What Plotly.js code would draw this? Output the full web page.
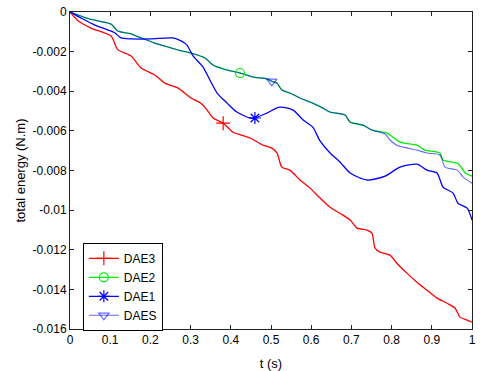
<!DOCTYPE html>
<html>
<head>
<meta charset="utf-8">
<script src="https://cdn.plot.ly/plotly-3.0.1.min.js"></script>
<style>html,body{margin:0;padding:0;background:#fff;}#chart{width:485px;height:371px;}</style>
</head>
<body>
<div id="chart"></div>
<script>
// DAE3 (red)
const t_dae3 = [0,0.020,0.052,0.102,0.119,0.152,0.177,0.211,0.236,0.269,0.301,0.326,0.341,0.356,0.381,0.405,0.448,0.480,0.502,0.515,0.527,0.547,0.572,0.597,0.622,0.647,0.679,0.697,0.714,0.739,0.751,0.759,0.771,0.796,0.813,0.838,0.863,0.888,0.913,0.938,0.958,0.970,0.988,1.0];
const e_dae3 = [0,-0.00044,-0.00081,-0.00121,-0.00190,-0.00222,-0.00283,-0.00318,-0.00359,-0.00384,-0.00434,-0.00460,-0.00495,-0.00535,-0.00561,-0.00606,-0.00636,-0.00672,-0.00687,-0.00712,-0.00783,-0.00798,-0.00848,-0.00889,-0.00939,-0.00985,-0.01025,-0.01050,-0.01091,-0.01101,-0.01116,-0.01192,-0.01212,-0.01227,-0.01268,-0.01318,-0.01364,-0.01404,-0.01444,-0.01470,-0.01495,-0.01540,-0.01555,-0.01566];
// DAE2 (green)
const t_dae2 = [0,0.045,0.070,0.102,0.119,0.152,0.177,0.211,0.244,0.269,0.301,0.336,0.356,0.391,0.423,0.455,0.490,0.502,0.515,0.527,0.547,0.572,0.604,0.629,0.647,0.684,0.697,0.729,0.751,0.789,0.796,0.821,0.863,0.883,0.920,0.928,0.963,0.975,0.983,1.0];
const e_dae2 = [0,-0.00033,-0.00045,-0.00061,-0.00096,-0.00111,-0.00131,-0.00157,-0.00177,-0.00192,-0.00207,-0.00232,-0.00268,-0.00293,-0.00308,-0.00328,-0.00338,-0.00350,-0.00359,-0.00394,-0.00409,-0.00434,-0.00460,-0.00485,-0.00505,-0.00520,-0.00556,-0.00571,-0.00596,-0.00611,-0.00621,-0.00657,-0.00672,-0.00697,-0.00712,-0.00747,-0.00763,-0.00788,-0.00813,-0.00828];
// DAE1 (blue)
const t_dae1 = [0,0.027,0.062,0.095,0.112,0.127,0.152,0.201,0.256,0.276,0.291,0.306,0.331,0.348,0.366,0.391,0.415,0.448,0.460,0.490,0.522,0.555,0.580,0.604,0.622,0.647,0.672,0.697,0.739,0.784,0.821,0.863,0.888,0.913,0.928,0.953,0.965,0.988,1.0];
const e_dae1 = [0,-0.00030,-0.00066,-0.00091,-0.00106,-0.00131,-0.00136,-0.00136,-0.00131,-0.00146,-0.00167,-0.00222,-0.00278,-0.00343,-0.00409,-0.00460,-0.00505,-0.00535,-0.00535,-0.00510,-0.00480,-0.00495,-0.00545,-0.00581,-0.00651,-0.00712,-0.00758,-0.00813,-0.00848,-0.00828,-0.00783,-0.00768,-0.00798,-0.00813,-0.00884,-0.00914,-0.00965,-0.00990,-0.01050];
// DAES (light blue)
const t_daes = [0,0.045,0.070,0.102,0.119,0.152,0.177,0.211,0.244,0.269,0.301,0.336,0.356,0.391,0.423,0.455,0.490,0.502,0.515,0.527,0.547,0.572,0.604,0.629,0.647,0.684,0.697,0.729,0.751,0.784,0.796,0.813,0.863,0.888,0.920,0.933,0.963,0.978,1.0];
const e_daes = [0,-0.00033,-0.00045,-0.00061,-0.00096,-0.00111,-0.00131,-0.00157,-0.00177,-0.00192,-0.00207,-0.00232,-0.00268,-0.00293,-0.00308,-0.00328,-0.00338,-0.00350,-0.00359,-0.00394,-0.00409,-0.00434,-0.00460,-0.00485,-0.00505,-0.00520,-0.00556,-0.00571,-0.00596,-0.00616,-0.00646,-0.00672,-0.00697,-0.00712,-0.00722,-0.00783,-0.00798,-0.00833,-0.00864];

const seriesNames = ['DAE3','DAE2','DAE1','DAES'];
const markerT = [0.381, 0.423, 0.460, 0.502];
const markerE = [-0.00561, -0.00308, -0.00535, -0.00350];

const xTicks = [0,0.1,0.2,0.3,0.4,0.5,0.6,0.7,0.8,0.9,1];
const xTickText = ['0','0.1','0.2','0.3','0.4','0.5','0.6','0.7','0.8','0.9','1'];
const yTicks = [0,-0.002,-0.004,-0.006,-0.008,-0.01,-0.012,-0.014,-0.016];
const yTickText = ['0','-0.002','-0.004','-0.006','-0.008','-0.01','-0.012','-0.014','-0.016'];

const colors = ['#ff0000','#00ee00','#0000ff','rgba(0,0,255,0.6)'];
const widths = [1.3,1.3,1.3,1.1];
const symbols = ['cross-thin-open','circle-open','asterisk-open','triangle-down-open'];
const sizes = [10,9,10,9];
const xs = [t_dae3,t_dae2,t_dae1,t_daes];
const ys = [e_dae3,e_dae2,e_dae1,e_daes];

const traces = [];
for (let i = 0; i < 4; i++) {
  traces.push({x: xs[i], y: ys[i], type:'scatter', mode:'lines', showlegend:false,
    legendgroup: seriesNames[i],
    line:{color: colors[i], width: widths[i], shape:'spline', smoothing:0.7}, hoverinfo:'skip'});
}
for (let i = 0; i < 4; i++) {
  traces.push({x: [markerT[i]], y: [markerE[i]], type:'scatter', mode:'lines+markers', name: seriesNames[i],
    legendgroup: seriesNames[i],
    line:{color: colors[i], width: widths[i]},
    marker:{symbol: symbols[i], size: sizes[i], color: colors[i], line:{color: colors[i], width:1.2}}});
}

const axisCommon = {
  showgrid:false, zeroline:false, showline:true, linecolor:'#222', linewidth:1,
  ticks:'inside', ticklen:4, tickcolor:'#222', mirror:'allticks',
  tickfont:{family:'Liberation Sans, Arial, sans-serif', size:12, color:'#000'}
};

const layout = {
  width:485, height:371,
  margin:{l:70, r:13, t:12, b:42},
  paper_bgcolor:'#fff', plot_bgcolor:'#fff',
  font:{family:'Liberation Sans, Arial, sans-serif', size:12, color:'#000'},
  xaxis: Object.assign({}, axisCommon, {range:[0,1], tickmode:'array', tickvals:xTicks, ticktext:xTickText,
    title:{text:'t (s)', standoff:13, font:{size:13}}}),
  yaxis: Object.assign({}, axisCommon, {range:[-0.016,0], tickmode:'array', tickvals:yTicks, ticktext:yTickText,
    title:{text:'total energy (N.m)', standoff:4, font:{size:13}}}),
  legend:{x:0.032, y:0.272, xanchor:'left', yanchor:'top', bgcolor:'#fff', bordercolor:'#000', borderwidth:1,
    font:{size:12}, tracegroupgap:0, itemwidth:30},
  showlegend:true
};

Plotly.newPlot('chart', traces, layout, {displayModeBar:false, staticPlot:true});
</script>
</body>
</html>
